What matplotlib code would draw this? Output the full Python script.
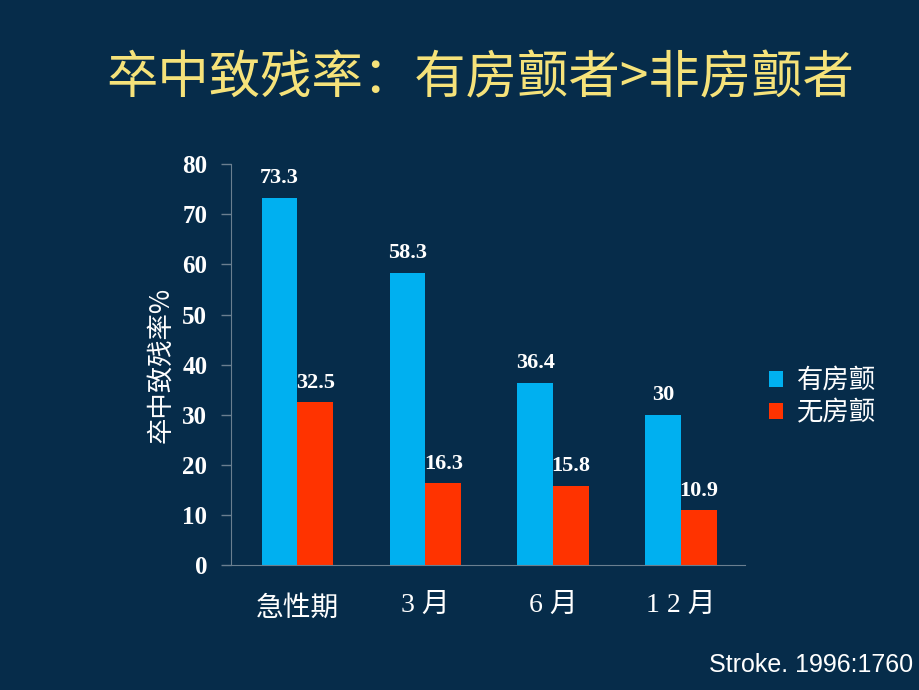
import matplotlib
matplotlib.use("Agg")
import matplotlib.pyplot as plt

categories = ["急性期", "3 月", "6 月", "1 2 月"]
af_values = [73.3, 58.3, 36.4, 30]
non_af_values = [32.5, 16.3, 15.8, 10.9]
series_names = ["有房颤", "无房颤"]
yticks = [0, 10, 20, 30, 40, 50, 60, 70, 80]

bg = "#062c4a"
blue = "#00b0f0"
red = "#ff3300"
cjk = ["Noto Sans CJK SC", "DejaVu Sans"]
serif = ["Liberation Serif", "Noto Sans CJK SC"]

fig = plt.figure(figsize=(9.2, 6.9), dpi=100, facecolor=bg)
ax = fig.add_axes([0.251, 0.181, 0.559, 0.581], facecolor=bg)

w = 0.28
x = list(range(len(categories)))
b1 = ax.bar([i - w/2 for i in x], af_values, width=w, color=blue, label=series_names[0])
b2 = ax.bar([i + w/2 for i in x], non_af_values, width=w, color=red, label=series_names[1])

for bars, vals in ((b1, af_values), (b2, non_af_values)):
    for r, v in zip(bars, vals):
        ax.annotate(f"{v:g}", (r.get_x() + r.get_width()/2, v), xytext=(0, 7),
                    textcoords="offset points", ha="center", va="bottom",
                    color="white", fontsize=16, fontweight="bold", family=serif)

ax.set_xlim(-0.52, 3.5)
ax.set_ylim(0, 80)
ax.set_yticks(yticks)
ax.set_yticklabels([str(t) for t in yticks], color="white", fontsize=18,
                   fontweight="bold", family=serif)
ax.set_xticks(x)
ax.set_xticklabels(categories, color="white", fontsize=20)
for lab in ax.get_xticklabels():
    if lab.get_text() == categories[0]:
        lab.set_family(cjk)
    else:
        lab.set_family(serif)
ax.tick_params(axis="x", length=0, pad=20)
ax.tick_params(axis="y", length=7, color="#6a7f90", width=1, pad=10, direction="out")
for s in ["top", "right"]:
    ax.spines[s].set_visible(False)
ax.spines["left"].set_color("#6a7f90")
ax.spines["bottom"].set_color("#6a7f90")

ax.set_ylabel("卒中致残率%", color="white", fontsize=19, family=cjk, labelpad=6)

leg = ax.legend(loc="center left", bbox_to_anchor=(1.0, 0.42), frameon=False,
                prop={"family": cjk, "size": 19}, handlelength=0.55, handleheight=0.55,
                handletextpad=0.5, labelspacing=0.2)
for t in leg.get_texts():
    t.set_color("white")

fig.text(0.522, 0.886, "卒中致残率：有房颤者>非房颤者", color="#f5e27a", fontsize=37,
         family=cjk, ha="center", va="center")
fig.text(0.992, 0.036, "Stroke. 1996:1760", color="white", fontsize=18,
         family=["Liberation Sans"], ha="right", va="center")

fig.savefig("out.png", dpi=100, facecolor=bg)
